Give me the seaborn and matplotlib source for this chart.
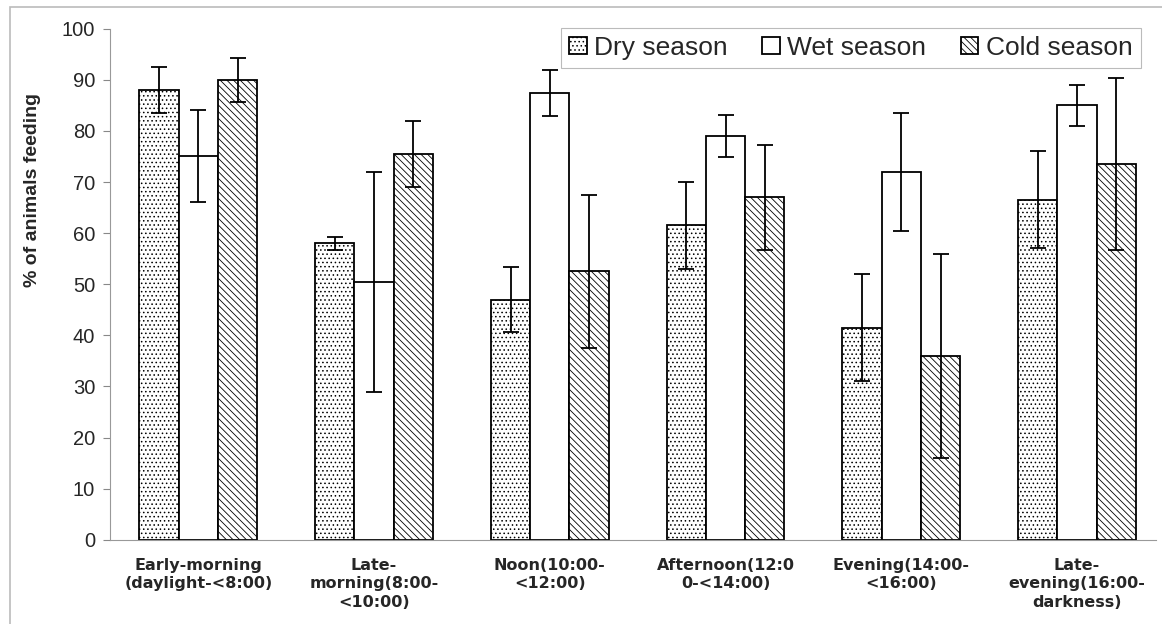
import numpy as np
import pandas as pd
import matplotlib
matplotlib.use("Agg")
import matplotlib.pyplot as plt
import seaborn as sns

# data
periods = ["Early-morning\n(daylight-<8:00)", "Late-\nmorning(8:00-\n<10:00)",
           "Noon(10:00-\n<12:00)", "Afternoon(12:0\n0-<14:00)",
           "Evening(14:00-\n<16:00)", "Late-\nevening(16:00-\ndarkness)"]
seasons = ["Dry season", "Wet season", "Cold season"]
dry = [88, 58, 47, 61.5, 41.5, 66.5]
wet = [75, 50.5, 87.5, 79, 72, 85]
cold = [90, 75.5, 52.5, 67, 36, 73.5]
dry_err = [4.5, 1.3, 6.3, 8.5, 10.5, 9.5]
wet_err = [9, 21.5, 4.5, 4.2, 11.5, 4]
cold_err = [4.3, 6.5, 15, 10.3, 20, 16.8]

sns.set_style("white")
plt.rcParams["font.family"] = ["Liberation Sans", "DejaVu Sans"]
plt.rcParams["hatch.linewidth"] = 0.6

df = pd.DataFrame({
    "period": periods * 3,
    "season": np.repeat(seasons, len(periods)),
    "value": dry + wet + cold,
})

fig = plt.figure(figsize=(11.62, 6.24), dpi=100)
ax = fig.add_axes([0.095, 0.135, 0.9, 0.819])

sns.barplot(data=df, x="period", y="value", hue="season", order=periods,
            hue_order=seasons, palette=["white"] * 3, width=0.67, gap=0,
            errorbar=None, edgecolor="black", linewidth=1.3, ax=ax,
            legend=False)

hatches = ["....", "", "\\\\\\\\\\"]
errs = [dry_err, wet_err, cold_err]
for cont, h, e in zip(ax.containers, hatches, errs):
    xs, ys = [], []
    for p in cont.patches:
        p.set_hatch(h)
        xs.append(p.get_x() + p.get_width() / 2)
        ys.append(p.get_height())
    ax.errorbar(xs, ys, yerr=e, fmt="none", ecolor="black", elinewidth=1.3,
                capsize=6, capthick=1.3, zorder=5)

ax.set_ylim(0, 100)
ax.set_xlim(-0.5, 5.45)
ax.set_yticks(range(0, 101, 10))
ax.tick_params(axis="y", labelsize=14.5, length=5, color="#888888", direction="out",
               left=True, pad=6)
ax.tick_params(axis="x", length=0, pad=13)
for lbl in ax.get_xticklabels():
    lbl.set_fontfamily("DejaVu Sans")
    lbl.set_fontweight("bold")
    lbl.set_fontsize(11.5)
    lbl.set_linespacing(1.3)
# group boundary ticks
ax.set_xticks(np.arange(0.5, 5.5, 1), minor=True)
ax.tick_params(axis="x", which="minor", length=5, color="#aaaaaa", direction="out")

ax.set_xlabel("")
ax.set_ylabel("% of animals feeding", fontsize=14, fontweight="bold")
ax.yaxis.set_label_coords(-0.066, 0.685)
for s in ["top", "right"]:
    ax.spines[s].set_visible(False)
ax.spines["left"].set_color("#999999")
ax.spines["bottom"].set_color("#999999")

leg = ax.legend(ax.containers, seasons, loc="upper right", ncol=3, fontsize=19,
                frameon=True, fancybox=False, handlelength=0.65, handleheight=0.65,
                handletextpad=0.3, columnspacing=1.3, borderpad=0.3,
                borderaxespad=0, bbox_to_anchor=(0.985, 1.002))
leg.get_frame().set_edgecolor("#aaaaaa")
leg.get_frame().set_linewidth(0.8)

# outer figure frame
fig.patches.append(plt.Rectangle((0.009, -0.01), 1.0, 0.998, transform=fig.transFigure,
                                 fill=False, edgecolor="#bbbbbb", linewidth=1.2))

fig.savefig("out.png", dpi=100)
